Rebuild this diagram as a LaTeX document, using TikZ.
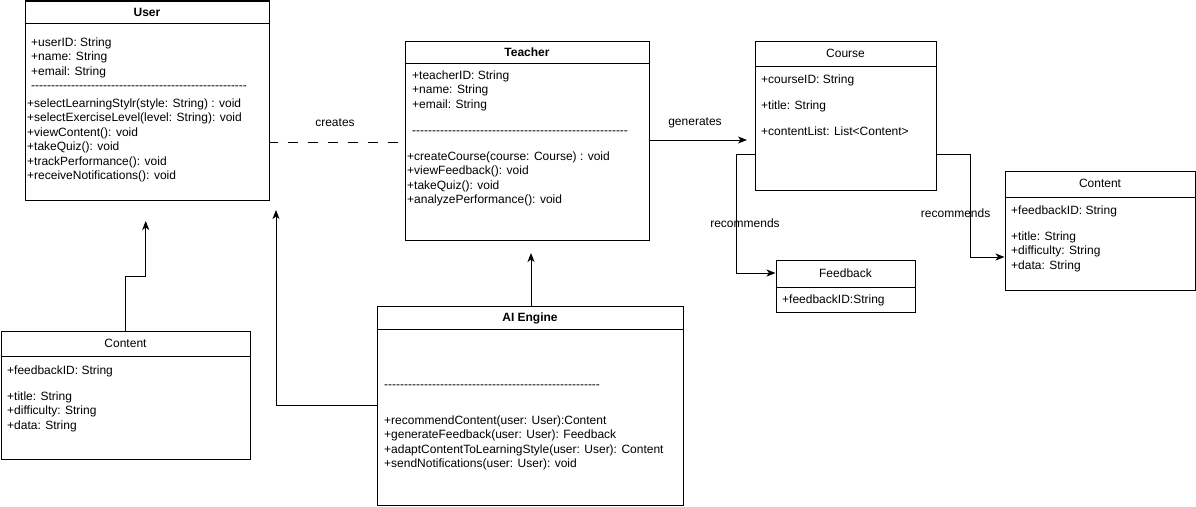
\documentclass[tikz,border=0pt]{standalone}
\usepackage{fontspec}
\setmainfont{Liberation Sans}[Ligatures=TeXOff]
\usetikzlibrary{arrows.meta}
\newcommand{\dashrow}{------------------------------------------------------}
\tikzset{
  cls/.style={draw, line width=1pt, inner sep=0pt, fill=white},
  ttl/.style={inner sep=0pt, font=\fontsize{12}{14.4}\selectfont},
  txt/.style={inner sep=0pt, anchor=north west, align=left, font=\fontsize{12}{14.4}\selectfont},
  lbl/.style={inner sep=0pt, font=\fontsize{12}{14.4}\selectfont},
  conn/.style={line width=1pt, -{Stealth[length=9pt,width=7pt,inset=2.5pt]}},
  plain/.style={line width=1pt},
  dash10/.style={line width=1pt, dash pattern=on 10pt off 10pt, dash phase=2pt},
}
\def\S{\strut}
\begin{document}
\begin{tikzpicture}[x=1pt,y=-1pt]
\useasboundingbox (0,0) rectangle (1196,506);
% ---------- boxes ----------
\node[cls, minimum width=244pt, minimum height=199pt] (user) at (147,100.5) {};
\node[cls, minimum width=244pt, minimum height=199pt] (teacher) at (527,140.5) {};
\node[cls, minimum width=181pt, minimum height=149pt] (course) at (845.5,115.5) {};
\node[cls, minimum width=139pt, minimum height=52pt] (feedback) at (845.5,286) {};
\node[cls, minimum width=190pt, minimum height=119pt] (contentR) at (1100,230.5) {};
\node[cls, minimum width=249pt, minimum height=128pt] (contentL) at (125.5,395) {};
\node[cls, minimum width=306pt, minimum height=199pt] (ai) at (530,405.5) {};
% header lines
\draw[plain] (user.west |- 0,23) -- (user.east |- 0,23);
\draw[plain] (teacher.west |- 0,63) -- (teacher.east |- 0,63);
\draw[plain] (course.west |- 0,66) -- (course.east |- 0,66);
\draw[plain] (feedback.west |- 0,287) -- (feedback.east |- 0,287);
\draw[plain] (contentR.west |- 0,197) -- (contentR.east |- 0,197);
\draw[plain] (contentL.west |- 0,356) -- (contentL.east |- 0,356);
\draw[plain] (ai.west |- 0,329) -- (ai.east |- 0,329);
% ---------- titles ----------
\node[ttl, font=\fontsize{12}{14.4}\selectfont\bfseries] (userT) at (147,12) {User};
\node[ttl, font=\fontsize{12}{14.4}\selectfont\bfseries] (teacherT) at (527,52) {Teacher};
\node[ttl] (courseT) at (845.5,53) {Course};
\node[ttl] (feedbackT) at (845.5,273) {Feedback};
\node[ttl] (contentRT) at (1100,183) {Content};
\node[ttl] (contentLT) at (125.5,343) {Content};
\node[ttl, font=\fontsize{12}{14.4}\selectfont\bfseries] (aiT) at (530,318) {AI Engine};
% ---------- members ----------
\node[txt] (userA) at (31,36.2) {\S+userID: String\\\S+name: String\\\S+email: String\\\S\dashrow};
\node[txt] (userO) at (27,97.2) {\S+selectLearningStylr(style: String) : void\\\S+selectExerciseLevel(level: String): void\\\S+viewContent(): void\\\S+takeQuiz(): void\\\S+trackPerformance(): void\\\S+receiveNotifications(): void};
\node[txt] (teacherA) at (412,69.2) {\S+teacherID: String\\\S+name: String\\\S+email: String};
\node[txt] (teacherD) at (412,124.2) {\S\dashrow};
\node[txt] (teacherO) at (407,150.2) {\S+createCourse(course: Course) : void\\\S+viewFeedback(): void\\\S+takeQuiz(): void\\\S+analyzePerformance(): void};
\node[txt] (courseA) at (761,73.2) {\S+courseID: String\\[11.6pt]\S+title: String\\[11.6pt]\S+contentList: List<Content>};
\node[txt] (feedbackA) at (782,293.2) {\S+feedbackID:String};
\node[txt] (contentRA) at (1011,204.2) {\S+feedbackID: String\\[11.6pt]\S+title: String\\\S+difficulty: String\\\S+data: String};
\node[txt] (contentLA) at (7,364.2) {\S+feedbackID: String\\[11.6pt]\S+title: String\\\S+difficulty: String\\\S+data: String};
\node[txt] (aiD) at (384,378.2) {\S\dashrow};
\node[txt] (aiO) at (384,414.2) {\S+recommendContent(user: User):Content\\\S+generateFeedback(user: User): Feedback\\\S+adaptContentToLearningStyle(user: User): Content\\\S+sendNotifications(user: User): void};
% ---------- connectors ----------
\coordinate (genEnd) at (747,140);
\coordinate (clTip) at (145.7,221);
\coordinate (aiTip) at (276,210);
\coordinate (aiTTip) at (531,253);
\draw[dash10] (user.east |- 0,142) -- (teacher.west |- 0,142);
\node[lbl] (createsL) at (335,123) {creates};
\draw[conn] (teacher.east |- 0,140) -- (genEnd);
\node[lbl] (generatesL) at (695,123) {generates};
\draw[conn] (course.west |- 0,154) -- (736,154) -- (736,273) -- (feedback.west |- 0,273);
\node[lbl] (recL) at (745,223) {recommends};
\draw[conn] (course.east |- 0,154) -- (970.5,154) -- (970.5,257) -- (contentR.west |- 0,257);
\node[lbl] (recR) at (955.6,213) {recommends};
\draw[conn] (contentL.north -| 125.7,0) -- (125.7,276) -- (145.7,276) -- (clTip);
\draw[conn] (ai.west |- 0,405) -- (276,405) -- (aiTip);
\draw[conn] (ai.north -| 531,0) -- (aiTTip);
\end{tikzpicture}
\end{document}
